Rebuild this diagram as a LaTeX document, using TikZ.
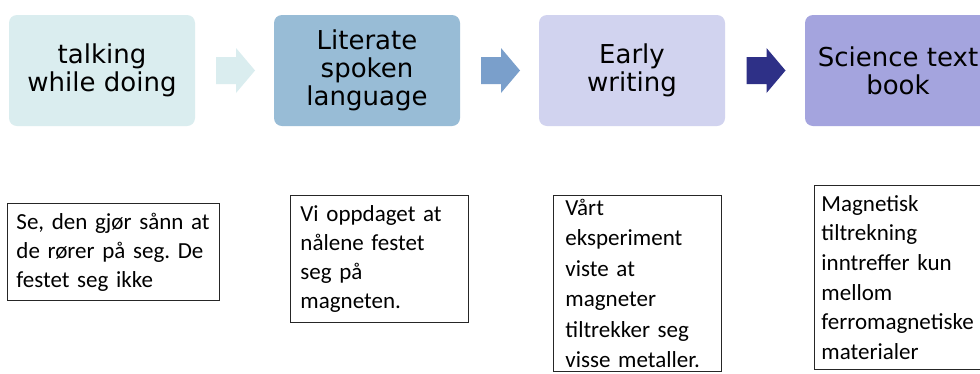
\documentclass[tikz,border=0pt]{standalone}
\usepackage{fontspec}
\setmainfont{Carlito}
\newfontfamily\topfont{DejaVu Sans}
\usetikzlibrary{calc}
\frenchspacing
\definecolor{cA}{HTML}{DAEDEF}
\definecolor{cB}{HTML}{98BCD6}
\definecolor{cC}{HTML}{D1D3EF}
\definecolor{cD}{HTML}{A4A4DE}
\definecolor{aA}{HTML}{DAEDEF}
\definecolor{aB}{HTML}{7A9FCB}
\definecolor{aC}{HTML}{2E3087}
\tikzset{
  stagebox/.style={rounded corners=8pt, minimum width=186pt, minimum height=111pt,
    align=center, inner sep=0pt, font=\topfont\fontsize{26}{28}\selectfont},
  notebox/.style={draw=black!85, line width=0.9pt, anchor=north west, align=left,
    inner ysep=0pt, font=\frenchspacing\fontsize{23}{29}\selectfont},
  blockarr/.pic={\path[pic actions] (-19.5,-13.5) -- (0.5,-13.5) -- (0.5,-22.5) -- (19.5,0)
     -- (0.5,22.5) -- (0.5,13.5) -- (-19.5,13.5) -- cycle;}
}
\begin{document}
\begin{tikzpicture}[x=1pt,y=-1pt]
\useasboundingbox (0,0) rectangle (980,373);
\clip (0,0) rectangle (980,373);
\fill[white] (0,0) rectangle (980,373);
% stages
\node[stagebox, fill=cA] (s1) at (102,70.5) {talking\\while doing};
\node[stagebox, fill=cB] (s2) at (367,70.5) {Literate\\spoken\\language};
\node[stagebox, fill=cC] (s3) at (632,70.5) {Early\\writing};
\node[stagebox, fill=cD] (s4) at (898,70.5) {Science text\\book};
% block arrows
\pic[fill=aA] at ($(s1.east)!0.5!(s2.west)+(1,0)$) {blockarr};
\pic[fill=aB] at ($(s2.east)!0.5!(s3.west)+(1,0)$) {blockarr};
\pic[fill=aC] at ($(s3.east)!0.5!(s4.west)+(1,0)$) {blockarr};
% notes
\node[notebox, inner xsep=9pt, text width=194pt, minimum height=97pt] (n1) at (7,203)
  {Se, den gjør sånn at\\de rører på seg. De\\festet seg ikke};
\node[notebox, inner xsep=10pt, text width=158pt, minimum height=127pt] (n2) at (290,195)
  {Vi oppdaget at\\nålene festet\\seg på\\magneten.};
\node[notebox, inner xsep=12pt, text width=144pt, minimum height=176pt,
  font=\frenchspacing\fontsize{23}{30.5}\selectfont] (n3) at (553,195)
  {Vårt\\eksperiment\\viste at\\magneter\\tiltrekker seg\\visse metaller.};
\node[notebox, inner xsep=7pt, text width=186pt, minimum height=184pt,
  font=\frenchspacing\fontsize{23}{29.6}\selectfont] (n4) at (814,185)
  {Magnetisk\\tiltrekning\\inntreffer kun\\mellom\\ferromagnetiske\\materialer};
\end{tikzpicture}
\end{document}
